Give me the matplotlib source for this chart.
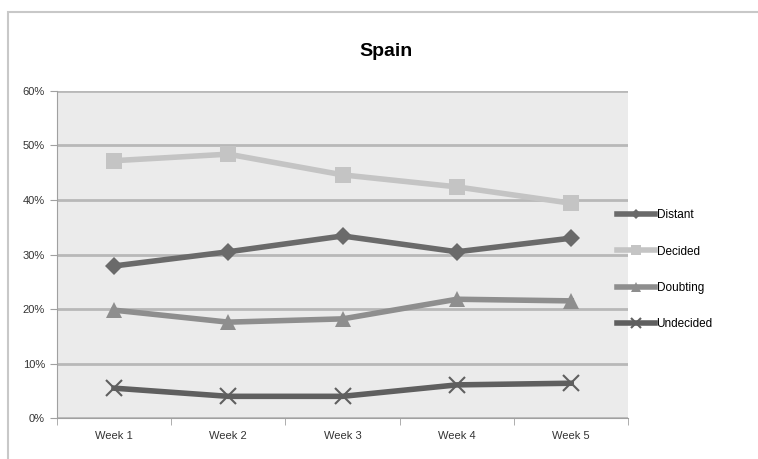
import matplotlib.pyplot as plt
from matplotlib.ticker import PercentFormatter
from matplotlib.patches import Rectangle

plt.rcParams['font.family'] = ['Liberation Sans', 'DejaVu Sans']

weeks = ["Week 1", "Week 2", "Week 3", "Week 4", "Week 5"]
distant = [27.9, 30.5, 33.4, 30.5, 33.0]
decided = [47.2, 48.4, 44.6, 42.4, 39.4]
doubting = [19.8, 17.6, 18.2, 21.8, 21.5]
undecided = [5.5, 4.0, 4.0, 6.1, 6.4]

series = [
    ("Distant", distant, "#6a6a6a", "D", 9),
    ("Decided", decided, "#c4c4c4", "s", 11),
    ("Doubting", doubting, "#8e8e8e", "^", 11),
    ("Undecided", undecided, "#5f5f5f", "x", 11),
]

fig = plt.figure(figsize=(7.58, 4.59), dpi=100)
fig.patches.append(Rectangle((0.011, -0.05), 1.2, 1.024, transform=fig.transFigure,
                             fill=False, edgecolor="#c8c8c8", linewidth=1.5))

ax = fig.add_axes([0.075, 0.089, 0.754, 0.713])
ax.set_facecolor("#ebebeb")

x = list(range(len(weeks)))
for name, vals, color, marker, ms in series:
    ax.plot(x, vals, color=color, linewidth=4, marker=marker, markersize=ms,
            markeredgewidth=1.5 if marker == "x" else 0, markeredgecolor=color,
            label=name)

ax.set_xlim(-0.5, 4.5)
ax.set_ylim(0, 60)
ax.set_yticks(range(0, 61, 10))
ax.yaxis.set_major_formatter(PercentFormatter(decimals=0))
ax.set_xticks(x)
ax.set_xticklabels(weeks)
ax.set_xticks([i - 0.5 for i in range(6)], minor=True)
ax.tick_params(axis="x", which="major", length=0, pad=9, labelsize=8, colors="#333333")
ax.tick_params(axis="x", which="minor", length=5, color="#a0a0a0")
ax.tick_params(axis="y", length=5, color="#a0a0a0", labelsize=8, labelcolor="#333333")
ax.grid(axis="y", color="#b8b8b8", linewidth=2)
ax.set_axisbelow(True)
for side in ["top", "right"]:
    ax.spines[side].set_visible(False)
for side in ["left", "bottom"]:
    ax.spines[side].set_color("#a0a0a0")

fig.text(0.509, 0.887, "Spain", ha="center", va="center", fontsize=14, fontweight="bold")

fig.legend(loc="upper left", bbox_to_anchor=(0.8, 0.567), frameon=False,
           handlelength=3.2, handletextpad=0.15, labelspacing=2.05, fontsize=8.5,
           markerscale=0.6)

plt.savefig("out.png", dpi=100)
